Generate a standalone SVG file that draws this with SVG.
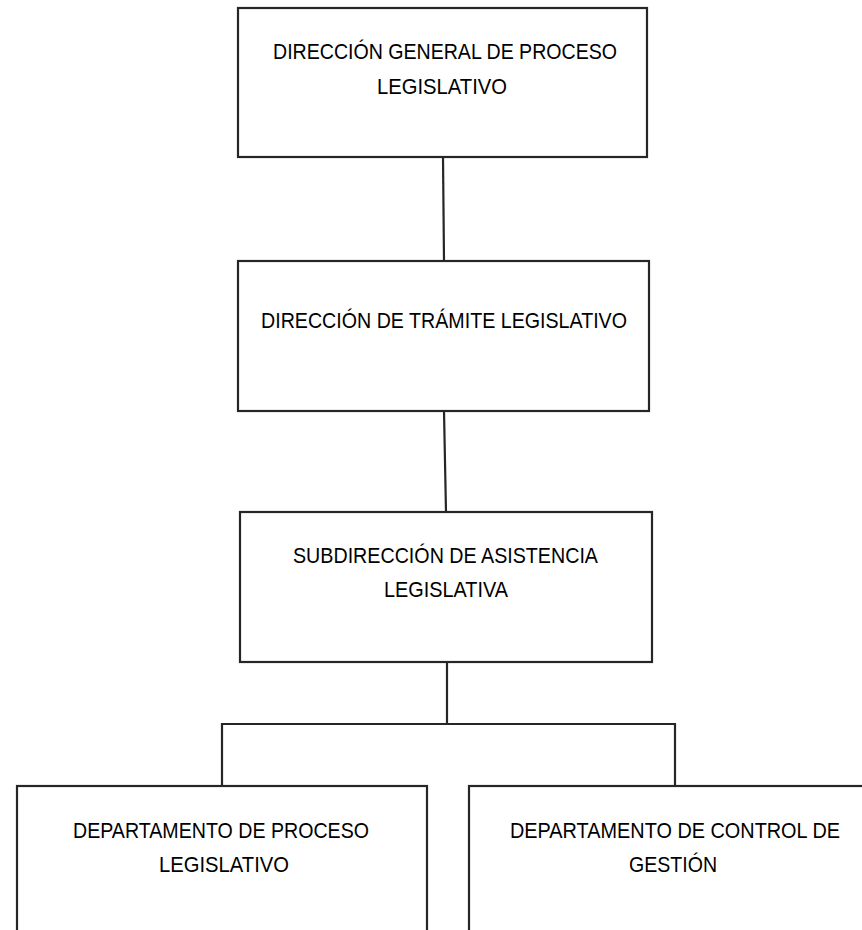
<svg xmlns="http://www.w3.org/2000/svg" width="862" height="930" viewBox="0 0 862 930">
<style>
.box{fill:#ffffff;stroke:#262626;stroke-width:2.2}
.con{fill:none;stroke:#262626;stroke-width:2.2}
.t{font-family:"Liberation Sans",Arial,sans-serif;font-size:22.5px;fill:#000000}
</style>
<rect width="862" height="930" fill="#ffffff"/>
<g id="connectors">
<line class="con" x1="443" y1="157" x2="444" y2="261"/>
<line class="con" x1="444" y1="411" x2="446" y2="512"/>
<line class="con" x1="447" y1="662" x2="447" y2="724"/>
<polyline class="con" points="222,786 222,724 675,724 675,786"/>
</g>
<g id="n1">
<rect class="box" x="238" y="8" width="409" height="149"/>
<text class="t" x="273" y="59" textLength="344" lengthAdjust="spacingAndGlyphs">DIRECCIÓN GENERAL DE PROCESO</text>
<text class="t" x="377" y="94" textLength="130" lengthAdjust="spacingAndGlyphs">LEGISLATIVO</text>
</g>
<g id="n2">
<rect class="box" x="238" y="261" width="411" height="150"/>
<text class="t" x="261" y="328" textLength="366" lengthAdjust="spacingAndGlyphs">DIRECCIÓN DE TRÁMITE LEGISLATIVO</text>
</g>
<g id="n3">
<rect class="box" x="240" y="512" width="412" height="150"/>
<text class="t" x="293" y="563" textLength="305" lengthAdjust="spacingAndGlyphs">SUBDIRECCIÓN DE ASISTENCIA</text>
<text class="t" x="384" y="597" textLength="124" lengthAdjust="spacingAndGlyphs">LEGISLATIVA</text>
</g>
<g id="n4">
<rect class="box" x="17" y="786" width="410" height="147"/>
<text class="t" x="73" y="838" textLength="296" lengthAdjust="spacingAndGlyphs">DEPARTAMENTO DE PROCESO</text>
<text class="t" x="159" y="872" textLength="130" lengthAdjust="spacingAndGlyphs">LEGISLATIVO</text>
</g>
<g id="n5">
<rect class="box" x="469" y="786" width="396" height="147"/>
<text class="t" x="510" y="838" textLength="330" lengthAdjust="spacingAndGlyphs">DEPARTAMENTO DE CONTROL DE</text>
<text class="t" x="629" y="872" textLength="88" lengthAdjust="spacingAndGlyphs">GESTIÓN</text>
</g>
</svg>
